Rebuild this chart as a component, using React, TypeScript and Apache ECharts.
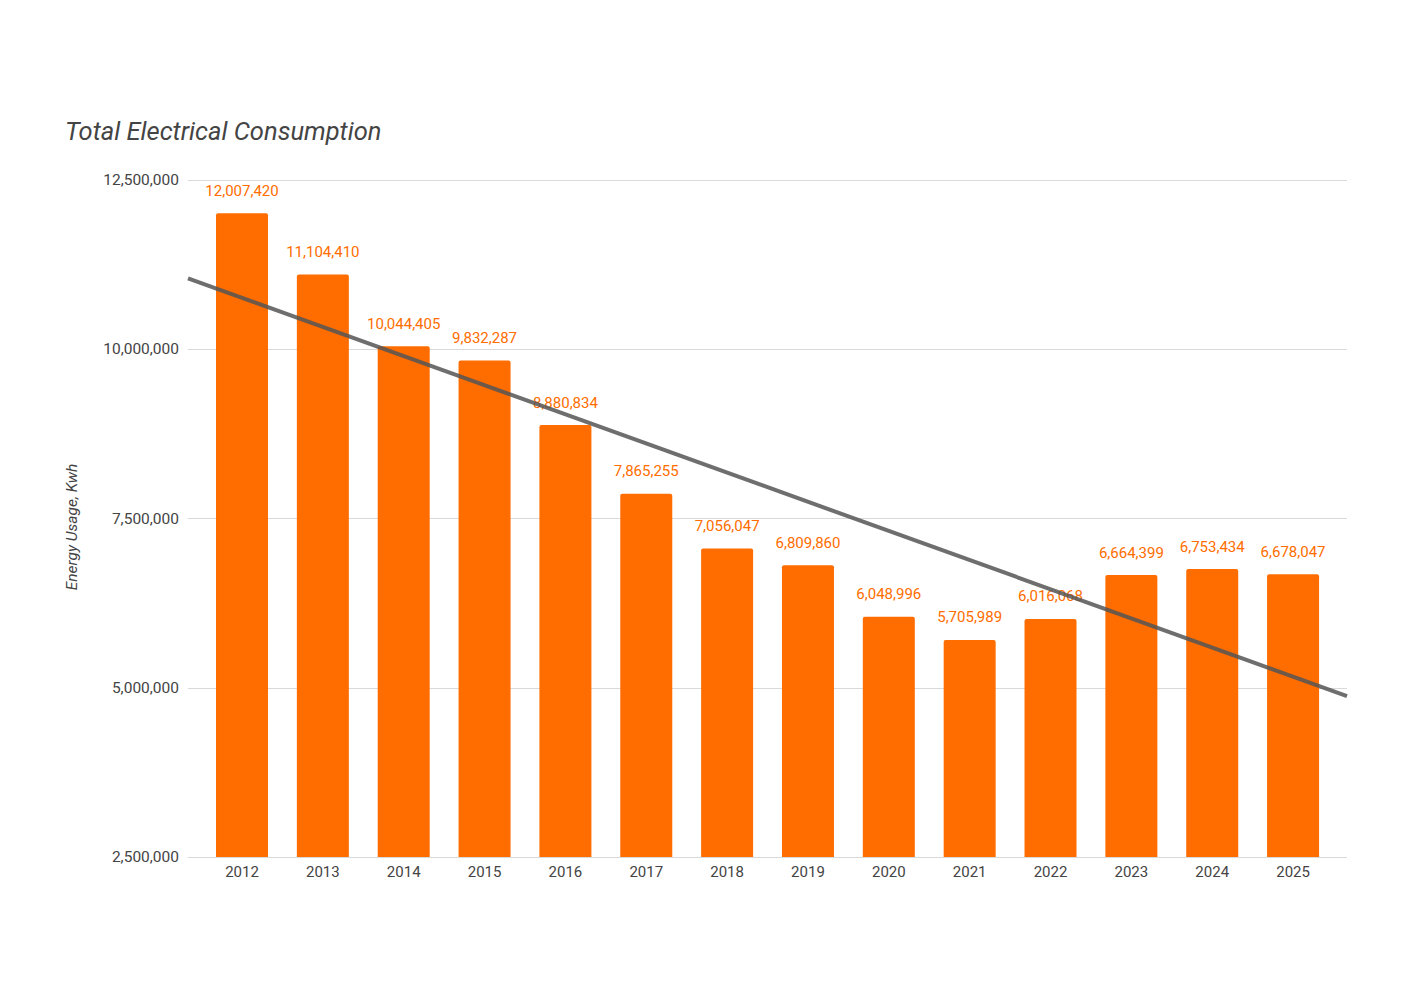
import React, { useEffect, useRef } from "react";
import * as echarts from "echarts";

const years = ["2012", "2013", "2014", "2015", "2016", "2017", "2018", "2019", "2020", "2021", "2022", "2023", "2024", "2025"];
const usage = [12007420, 11104410, 10044405, 9832287, 8880834, 7865255, 7056047, 6809860, 6048996, 5705989, 6016068, 6664399, 6753434, 6678047];
const yTicks = { min: 2500000, max: 12500000, interval: 2500000 };
const xRange = { min: -0.668, max: 13.667 };

function linearFit(ys: number[]) {
  const n = ys.length;
  const mx = (n - 1) / 2;
  const my = ys.reduce((a, b) => a + b, 0) / n;
  let sxy = 0;
  let sxx = 0;
  ys.forEach((y, i) => {
    sxy += (i - mx) * (y - my);
    sxx += (i - mx) * (i - mx);
  });
  const slope = sxy / sxx;
  return (x: number) => my + slope * (x - mx);
}

const fmt = (v: number) => v.toLocaleString("en-US");

export default function App() {
  const ref = useRef<HTMLDivElement>(null);
  useEffect(() => {
    if (!ref.current) return;
    const chart = echarts.init(ref.current, null, { renderer: "svg" });
    const fit = linearFit(usage);
    const font = "Roboto";
    chart.setOption({
      animation: false,
      backgroundColor: "#ffffff",
      textStyle: { fontFamily: font },
      title: {
        text: "Total Electrical Consumption",
        left: 60,
        top: 113,
        textStyle: { fontFamily: font, fontStyle: "italic", fontWeight: "normal", fontSize: 25.5, color: "#444444" },
      },
      graphic: [
        {
          type: "text",
          x: 72,
          y: 527,
          rotation: Math.PI / 2,
          style: {
            text: "Energy Usage, Kwh",
            fontFamily: font,
            fontStyle: "italic",
            fontSize: 15.5,
            fill: "#444444",
            align: "center",
            verticalAlign: "middle",
          },
        },
      ],
      grid: { left: 188, right: 67, top: 180, bottom: 141, containLabel: false },
      xAxis: {
        type: "value",
        min: xRange.min,
        max: xRange.max,
        axisLine: { show: false },
        axisTick: { show: false },
        splitLine: { show: false },
        axisLabel: {
          customValues: years.map((_, i) => i),
          formatter: (v: number) => years[Math.round(v)] ?? "",
          color: "#444444",
          fontSize: 15,
          margin: 7,
          fontFamily: font,
        },
      },
      yAxis: {
        type: "value",
        min: yTicks.min,
        max: yTicks.max,
        interval: yTicks.interval,
        axisLine: { show: false },
        axisTick: { show: false },
        splitLine: { lineStyle: { color: "#d9d9d9", width: 1 } },
        axisLabel: { formatter: (v: number) => fmt(v), color: "#444444", fontSize: 15.5, margin: 9, fontFamily: font },
      },
      series: [
        {
          type: "bar",
          data: usage.map((v, i) => [i, v]),
          barWidth: 52,
          itemStyle: { color: "#ff6d00", borderRadius: [2, 2, 0, 0] },
          label: {
            show: true,
            position: "top",
            distance: 15,
            color: "#ff6d00",
            fontSize: 15,
            fontFamily: font,
            formatter: (p: any) => fmt(p.value[1]),
          },
          z: 2,
        },
        {
          type: "line",
          data: [
            [xRange.min, fit(xRange.min)],
            [xRange.max, fit(xRange.max)],
          ],
          symbol: "none",
          lineStyle: { color: "#555555", width: 4, opacity: 0.85 },
          silent: true,
          z: 5,
        },
      ],
    });
    return () => chart.dispose();
  }, []);
  return <div ref={ref} style={{ position: "absolute", left: 0, top: 0, width: 1414, height: 998 }} />;
}
